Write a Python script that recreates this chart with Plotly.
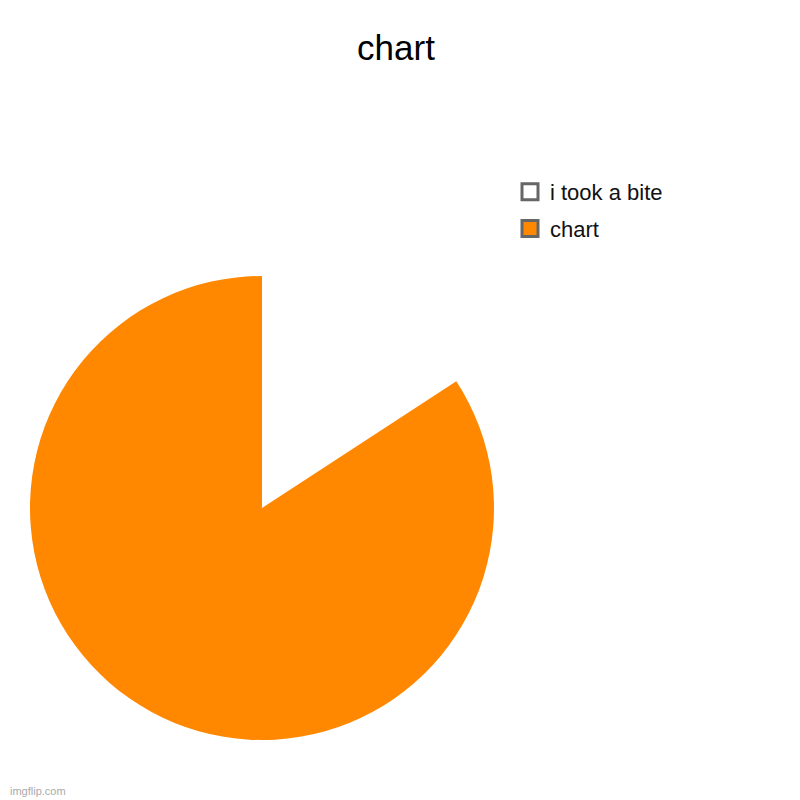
import plotly.graph_objects as go

# slices, clockwise from 12 o'clock
labels = ["i took a bite", "chart"]
values = [15.8, 84.2]
colors = ["#ffffff", "#ff8800"]

FONT = "Arial, Liberation Sans, sans-serif"

fig = go.Figure()

fig.add_trace(go.Pie(
    labels=labels,
    values=values,
    sort=False,
    direction="clockwise",
    rotation=0,
    marker=dict(colors=colors, line=dict(width=0)),
    textinfo="none",
    hoverinfo="label+percent",
    showlegend=False,
    domain=dict(x=[22 / 800, 486 / 800], y=[1 - 732 / 800, 1 - 268 / 800]),
))

# legend entries drawn with empty scatter traces so the swatches get a border
for i, (lab, col) in enumerate(zip(labels, colors)):
    fig.add_trace(go.Scatter(
        x=[None], y=[None],
        mode="markers",
        name=lab,
        legendgroup=str(i),
        marker=dict(symbol="square", size=16, color=col,
                    line=dict(color="#666666", width=3)),
    ))

fig.update_layout(
    width=800, height=800,
    margin=dict(l=0, r=0, t=0, b=0),
    paper_bgcolor="white",
    plot_bgcolor="white",
    font=dict(family=FONT, color="#222222"),
    title=dict(text="chart", x=388 / 800, xanchor="center",
               y=1 - 40 / 800, yanchor="middle",
               font=dict(family=FONT, size=35, color="#000000")),
    xaxis=dict(visible=False),
    yaxis=dict(visible=False),
    legend=dict(x=502 / 800, xanchor="left", y=1 - 163 / 800, yanchor="top",
                font=dict(family=FONT, size=22, color="#111111"),
                tracegroupgap=5, itemsizing="trace"),
    annotations=[dict(text="imgflip.com", x=0, y=1 - 783 / 800,
                      xref="paper", yref="paper", xanchor="left",
                      yanchor="middle", showarrow=False,
                      font=dict(family=FONT, size=11, color="#aaaaaa"))],
)

fig.write_html("out.html")
